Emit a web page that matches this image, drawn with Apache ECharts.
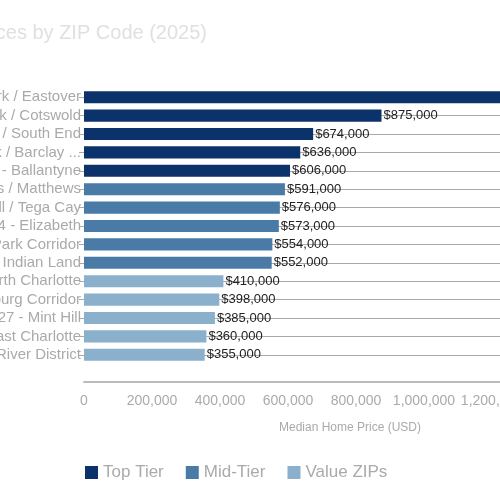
<!DOCTYPE html>
<html>
<head>
<meta charset="utf-8">
<script src="https://cdn.jsdelivr.net/npm/echarts@6/dist/echarts.min.js"></script>
<style>
  html, body { margin: 0; padding: 0; background: #fff; }
  #main { width: 500px; height: 500px; }
</style>
</head>
<body>
<div id="main"></div>
<script>
var zips = [
  '28207 - Myers Park / Eastover',
  '28211 - SouthPark / Cotswold',
  '28203 - Dilworth / South End',
  '28210 - SouthPark / Barclay Downs',
  '28277 - Ballantyne',
  '28104 - Stallings / Matthews',
  '29708 - Fort Mill / Tega Cay',
  '28204 - Elizabeth',
  '28209 - Freedom Park Corridor',
  '29707 - Indian Land',
  '28269 - North Charlotte',
  '28262 - Harrisburg Corridor',
  '28212 / 28227 - Mint Hill',
  '28215 - East Charlotte',
  '28208 - River District'
];
var prices = [1250000, 875000, 674000, 636000, 606000, 591000, 576000, 573000, 554000, 552000, 410000, 398000, 385000, 360000, 355000];
var tiers = ['Top Tier', 'Top Tier', 'Top Tier', 'Top Tier', 'Top Tier',
  'Mid-Tier', 'Mid-Tier', 'Mid-Tier', 'Mid-Tier', 'Mid-Tier',
  'Value ZIPs', 'Value ZIPs', 'Value ZIPs', 'Value ZIPs', 'Value ZIPs'];
var tierNames = ['Top Tier', 'Mid-Tier', 'Value ZIPs'];
var tierColors = ['#0b326b', '#4a7aa6', '#8ab0cc'];

var series = tierNames.map(function (t, k) {
  return {
    name: t,
    type: 'bar',
    stack: 'all',
    barWidth: '66%',
    itemStyle: { color: tierColors[k] },
    label: {
      show: true,
      position: 'right',
      distance: 2,
      color: '#222',
      fontSize: 13,
      fontFamily: 'Liberation Sans',
      formatter: function (p) { return '$' + p.value.toLocaleString('en-US'); }
    },
    markLine: k === 0 ? {
      silent: true,
      symbol: 'none',
      label: { show: false },
      lineStyle: { color: '#aaa', type: 'solid', width: 1 },
      z: 0,
      data: zips.map(function (z) { return { yAxis: z }; })
    } : undefined,
    data: prices.map(function (v, i) { return tiers[i] === t ? v : null; })
  };
});

var chart = echarts.init(document.getElementById('main'));
chart.setOption({
  animation: false,
  title: {
    text: 'Charlotte Median Home Prices by ZIP Code (2025)',
    right: 288,
    top: 18,
    textStyle: { color: '#e0e0e0', fontSize: 20, fontWeight: 'normal', fontFamily: 'Liberation Sans' }
  },
  legend: {
    data: tierNames,
    left: 80,
    top: 459,
    icon: 'rect',
    itemWidth: 13,
    itemHeight: 13,
    itemGap: 22,
    textStyle: { color: '#aaa', fontSize: 17, fontFamily: 'Liberation Sans' }
  },
  grid: { left: 84, right: -60, top: 88, bottom: 136, containLabel: false, outerBoundsMode: 'none' },
  xAxis: {
    type: 'value',
    min: 0,
    max: 1400000,
    interval: 200000,
    offset: 18,
    name: 'Median Home Price (USD)',
    nameLocation: 'middle',
    nameGap: 40,
    nameTextStyle: { color: '#aaa', fontSize: 12, fontFamily: 'Liberation Sans', padding: [0, 0, 0, 56] },
    axisLine: { show: true, lineStyle: { color: '#bbb', width: 2 } },
    axisTick: { show: false },
    splitLine: { show: false },
    axisLabel: { color: '#aaa', fontSize: 14, fontFamily: 'Liberation Sans', margin: 12,
      formatter: function (v) { return v.toLocaleString('en-US'); } }
  },
  yAxis: {
    type: 'category',
    data: zips,
    inverse: true,
    axisLine: { show: false },
    axisTick: { show: true, alignWithLabel: true, length: 5, lineStyle: { color: '#aaa' } },
    splitLine: { show: false },
    axisLabel: { color: '#aaa', fontSize: 15, fontFamily: 'Liberation Sans', margin: 3, interval: 0,
      width: 210, overflow: 'truncate' }
  },
  series: series
});
</script>
</body>
</html>
